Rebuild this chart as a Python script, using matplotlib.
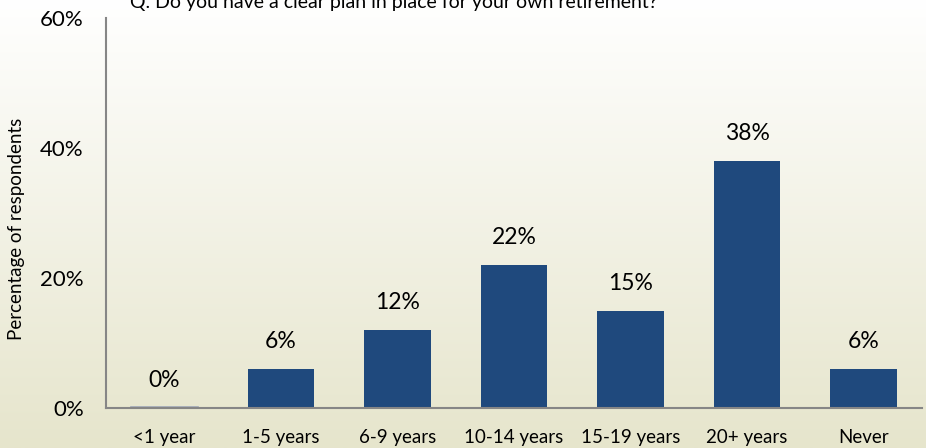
import matplotlib.pyplot as plt
import numpy as np

plt.rcParams['font.family'] = ['Lato', 'DejaVu Sans']

categories = ['<1 year', '1-5 years', '6-9 years', '10-14 years', '15-19 years', '20+ years', 'Never']
values = [0, 6, 12, 22, 15, 38, 6]
yticks = [0, 20, 40, 60]
title = 'Q. Do you have a clear plan in place for your own retirement?'

fig = plt.figure(figsize=(9.26, 4.48), dpi=100)

# soft vertical gradient behind everything: white at the top, cream at the bottom
bg = fig.add_axes([0, 0, 1, 1], zorder=-10)
top = np.array([1.0, 1.0, 1.0])
bottom = np.array([0xe6, 0xe5, 0xcc]) / 255
t = np.linspace(0, 1, 256)[:, None, None]
grad = top * (1 - t) + bottom * t
bg.imshow(grad, aspect='auto', extent=[0, 1, 0, 1], origin='upper')
bg.axis('off')

ax = fig.add_axes([106 / 926, 40 / 448, 816 / 926, 390 / 448])
ax.patch.set_alpha(0)

x = np.arange(len(categories))
ax.bar(x, values, width=0.57, color='#1f497d', linewidth=0.0)
# the empty category still shows a faint base line
ax.plot([x[0] - 0.285, x[0] + 0.285], [0.1, 0.1], color='#a0a8b8', lw=1.2)

for xi, v in zip(x, values):
    ax.text(xi, v + 4.2, f'{v}%', ha='center', va='center', fontsize=16.5)

ax.set_xlim(-0.5, len(categories) - 0.5)
ax.set_ylim(0, 60)
ax.set_xticks(x)
ax.set_xticklabels(categories, fontsize=13.5)
ax.set_yticks(yticks)
ax.set_yticklabels([f'{v}%' for v in yticks], fontsize=16)
ax.tick_params(axis='x', length=0, pad=15)
ax.tick_params(axis='y', length=0, pad=16)

for side in ('top', 'right'):
    ax.spines[side].set_visible(False)
for side in ('left', 'bottom'):
    ax.spines[side].set_color('#868686')
    ax.spines[side].set_linewidth(1.5)

fig.text(17 / 926, 1 - 229 / 448, 'Percentage of respondents', fontsize=13.5,
         rotation=90, ha='center', va='center')

fig.text(130 / 926, 1 - 8 / 448, title, fontsize=14, va='baseline', ha='left')

fig.savefig('out.png', dpi=100)
